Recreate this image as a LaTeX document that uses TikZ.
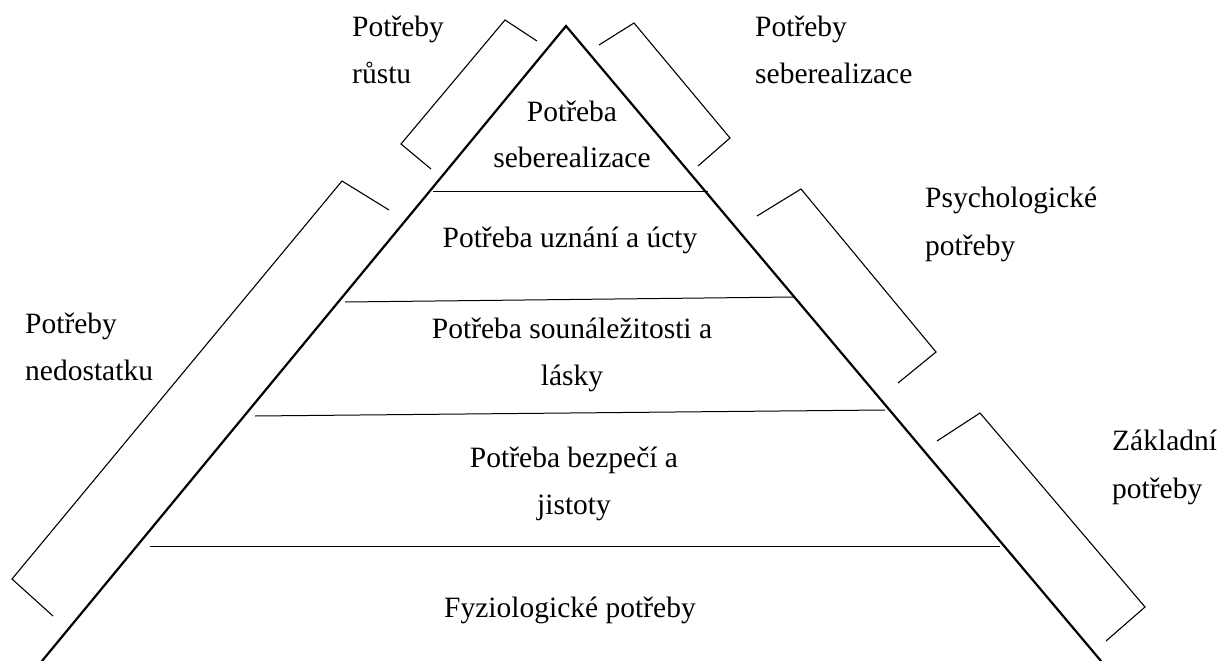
\documentclass[tikz,border=0pt]{standalone}
\usepackage{fontspec}
\setmainfont{Liberation Serif}
\begin{document}
\begin{tikzpicture}[x=1pt,y=-1pt,
  lbl/.style={inner sep=0pt,font=\fontsize{29.5}{34}\selectfont},
  side/.style={line width=2.2pt,line cap=round},
  tier/.style={line width=1pt},
  brk/.style={line width=1.1pt,line join=miter}]
\useasboundingbox (0,0) rectangle (1223,661);
\fill[white] (0,0) rectangle (1223,661);
% triangle
\coordinate (apex) at (566,26);
\coordinate (bl) at (42,661);
\coordinate (br) at (1101,661);
\draw[side] (bl) -- (apex) -- (br);
% tier lines
\coordinate (t1a) at (433,191); \coordinate (t1b) at (708,191);
\coordinate (t2a) at (345,302); \coordinate (t2b) at (794,297);
\coordinate (t3a) at (255,416); \coordinate (t3b) at (885,410);
\coordinate (t4a) at (150,546); \coordinate (t4b) at (1000,546);
\draw[tier] (t1a) -- (t1b);
\draw[tier] (t2a) -- (t2b);
\draw[tier] (t3a) -- (t3b);
\draw[tier] (t4a) -- (t4b);
% brackets
\coordinate (b1a) at (537,41); \coordinate (b1b) at (505,20); \coordinate (b1c) at (401,144); \coordinate (b1d) at (431,169);
\draw[brk] (b1a) -- (b1b) -- (b1c) -- (b1d);
\coordinate (b2a) at (599,45); \coordinate (b2b) at (634,23); \coordinate (b2c) at (730,138); \coordinate (b2d) at (698,166);
\draw[brk] (b2a) -- (b2b) -- (b2c) -- (b2d);
\coordinate (b3a) at (389,210); \coordinate (b3b) at (342,181); \coordinate (b3c) at (12,579); \coordinate (b3d) at (53,616);
\draw[brk] (b3a) -- (b3b) -- (b3c) -- (b3d);
\coordinate (b4a) at (757,216); \coordinate (b4b) at (801,189); \coordinate (b4c) at (936,352); \coordinate (b4d) at (898,383);
\draw[brk] (b4a) -- (b4b) -- (b4c) -- (b4d);
\coordinate (b5a) at (937,441); \coordinate (b5b) at (980,413); \coordinate (b5c) at (1145,607); \coordinate (b5d) at (1106,641);
\draw[brk] (b5a) -- (b5b) -- (b5c) -- (b5d);
% inner labels
\node[lbl,anchor=base] (s1) at (572,121) {Potřeba};
\node[lbl,anchor=base] (s2) at (572,167) {seberealizace};
\node[lbl,anchor=base] (u1) at (570,247) {Potřeba uznání a úcty};
\node[lbl,anchor=base] (l1) at (572,338) {Potřeba sounáležitosti a};
\node[lbl,anchor=base] (l2) at (572,385) {lásky};
\node[lbl,anchor=base] (z1) at (574,467) {Potřeba bezpečí a};
\node[lbl,anchor=base] (z2) at (574,514) {jistoty};
\node[lbl,anchor=base] (f1) at (570,617) {Fyziologické potřeby};
% outer labels
\node[lbl,anchor=base west] (r1) at (352,37) {Potřeby};
\node[lbl,anchor=base west] (r2) at (352,83) {růstu};
\node[lbl,anchor=base west] (e1) at (755,37) {Potřeby};
\node[lbl,anchor=base west] (e2) at (755,83) {seberealizace};
\node[lbl,anchor=base west] (n1) at (25,333) {Potřeby};
\node[lbl,anchor=base west] (n2) at (25,380) {nedostatku};
\node[lbl,anchor=base west] (p1) at (925,207) {Psychologické};
\node[lbl,anchor=base west] (p2) at (925,255) {potřeby};
\node[lbl,anchor=base west] (k1) at (1112,450) {Základní};
\node[lbl,anchor=base west] (k2) at (1112,498) {potřeby};
\end{tikzpicture}
\end{document}
